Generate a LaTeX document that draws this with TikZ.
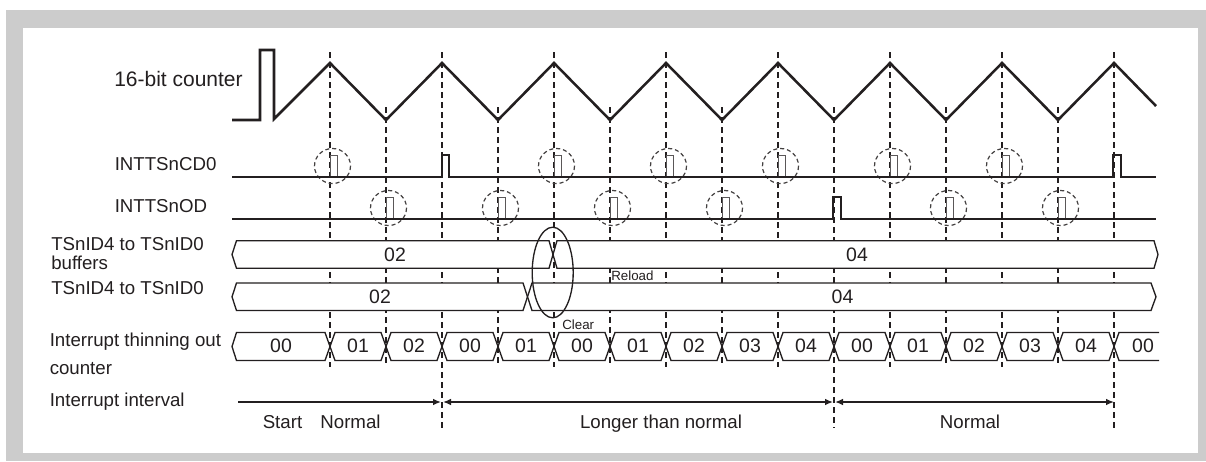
\documentclass[tikz,border=0pt]{standalone}
\usepackage{fontspec}
\setmainfont{Liberation Sans}
\usetikzlibrary{arrows.meta}
\definecolor{framegray}{RGB}{204,204,204}
\definecolor{ink}{RGB}{35,31,32}
\begin{document}
\begin{tikzpicture}[x=0.75pt,y=-0.75pt,
  wave/.style={line width=1.9pt, draw=ink, line join=miter},
  sig/.style={line width=2.1pt, draw=ink},
  bus/.style={line width=1pt, draw=ink, fill=white},
  guide/.style={line width=1pt, draw=ink, dash pattern=on 4.5pt off 3pt},
  hint/.style={line width=0.9pt, draw=ink!85, dash pattern=on 3pt off 2.2pt},
  glyph/.style={line width=0.7pt, draw=ink!75},
  lbl/.style={inner sep=0pt, anchor=base west, font=\fontsize{14}{16}\selectfont, text=ink},
  title/.style={inner sep=0pt, anchor=base west, font=\fontsize{15.75}{18}\selectfont, text=ink},
  val/.style={inner sep=0pt, font=\fontsize{14.6}{16}\selectfont, text=ink},
  note/.style={inner sep=0pt, anchor=base west, font=\fontsize{10}{12}\selectfont, text=ink},
  span/.style={inner sep=0pt, anchor=base, font=\fontsize{14}{16}\selectfont, text=ink},
  dimline/.style={line width=1.1pt, draw=ink}
]
% frame
\fill[framegray] (6,10) rectangle (1206,461);
\fill[white] (23,28) rectangle (1198,453);
\useasboundingbox (0,0) rectangle (1206,461);

% guide lines
\foreach \x/\t/\b in {330/52/367, 386/107/367, 442/52/428, 498/107/367, 554/52/367,
  610/107/367, 666/52/367, 722/107/367, 778/52/367, 834/107/428, 890/52/367,
  946/107/367, 1002/52/367, 1058/107/367, 1114/52/428}
  \draw[guide] (\x,\t) -- (\x,\b);

% labels
\node[title] (lcnt) at (114,86.5) {16-bit counter};
\node[lbl] (lcd) at (114.5,170.5) {INTTSnCD0};
\node[lbl] (lod) at (114.5,212.5) {INTTSnOD};
\node[lbl] (lbuf) at (51,250.5) {TSnID4 to TSnID0};
\node[lbl] (lbuf2) at (51,269.5) {buffers};
\node[lbl] (lreg) at (51,294) {TSnID4 to TSnID0};
\node[lbl] (lthin) at (49.5,346.5) {Interrupt thinning out};
\node[lbl] (lthin2) at (49.5,374.3) {counter};
\node[lbl] (lint) at (49.5,406.7) {Interrupt interval};

% 16-bit counter
\draw[wave] (232,120) -- (260,120) -- (260,50) -- (274,50) -- (274,119)
  -- (330,63) -- (386,120) -- (442,63) -- (498,120) -- (554,63) -- (610,120)
  -- (666,63) -- (722,120) -- (778,63) -- (834,120) -- (890,63) -- (946,120)
  -- (1002,63) -- (1058,120) -- (1114,63) -- (1156,106);

% hint circles
\foreach \x in {330,554,666,778,890,1002}{
  \draw[hint] (\x+2.5,166) ellipse (18 and 17.5);
  \draw[glyph] (\x,176) -- (\x,155) -- (\x+7,155) -- (\x+7,176);
}
\foreach \x in {386,498,610,722,946,1058}{
  \draw[hint] (\x+2.5,208) ellipse (18 and 17.5);
  \draw[glyph] (\x,218) -- (\x,197) -- (\x+7,197) -- (\x+7,218);
}

% interrupt signals
\draw[sig] (232,177) -- (442,177) -- (442,155) -- (449,155) -- (449,177)
  -- (1113,177) -- (1113,155) -- (1121,155) -- (1121,177) -- (1156,177);
\draw[sig] (232,219) -- (833,219) -- (833,197) -- (841,197) -- (841,219) -- (1156,219);

% buffer bus
\draw[bus] (232,254.5) -- (236.5,240.7) -- (549,240.7) -- (553,254.5) -- (549,268.3) -- (236.5,268.3) -- cycle;
\draw[bus] (553,254.5) -- (557,240.7) -- (1154,240.7) -- (1158,254.5) -- (1154,268.3) -- (557,268.3) -- cycle;
\node[val] (b1) at (395,254.5) {02};
\node[val] (b2) at (857,254.5) {04};

% register bus
\draw[bus] (232,296.8) -- (236.5,283) -- (523,283) -- (527.5,296.8) -- (523,310.5) -- (236.5,310.5) -- cycle;
\draw[bus] (527.5,296.8) -- (532,283) -- (1151,283) -- (1156,296.8) -- (1151,310.5) -- (532,310.5) -- cycle;
\node[val] (r1) at (380,297) {02};
\node[val] (r2) at (842.5,297) {04};

% thinning out counter
\draw[bus] (232,346.5) -- (236.5,332.5) -- (325,332.5) -- (330,346.5) -- (325,360.5) -- (236.5,360.5) -- cycle;
\node[val] (t0) at (281,346) {00};
\foreach \a/\b/\v [count=\i] in {330/386/01, 386/442/02, 442/498/00, 498/554/01,
  554/610/00, 610/666/01, 666/722/02, 722/778/03, 778/834/04, 834/890/00,
  890/946/01, 946/1002/02, 1002/1058/03, 1058/1114/04}{
  \draw[bus] (\a,346.5) -- (\a+5,332.5) -- (\b-5,332.5) -- (\b,346.5) -- (\b-5,360.5) -- (\a+5,360.5) -- cycle;
  \node[val] (t\i) at ({(\a+\b)/2},346) {\v};
}
\fill[white] (1119,332.5) rectangle (1159,360.5);
\draw[line width=1pt, draw=ink] (1159,332.5) -- (1119,332.5) -- (1114,346.5) -- (1119,360.5) -- (1159,360.5);
\node[val] (t15) at (1143,346) {00};

% reload / clear
\draw[line width=1pt, draw=ink] (552.7,272.5) ellipse (20.5 and 45.3);
\node[note] (reload) at (611,280) {Reload};
\node[note] (clear) at (562,329.3) {Clear};

% interrupt interval
\coordinate (i0) at (238,402);
\coordinate (i1) at (441,402);
\coordinate (i1b) at (443,402);
\coordinate (i2) at (833,402);
\coordinate (i2b) at (835,402);
\coordinate (i3) at (1114,402);
\draw[dimline, -{Latex[length=6pt,width=5pt]}] (i0) -- (i1);
\draw[dimline, {Latex[length=6pt,width=5pt]}-{Latex[length=6pt,width=5pt]}] (i1b) -- (i2);
\draw[dimline, {Latex[length=6pt,width=5pt]}-{Latex[length=6pt,width=5pt]}] (i2b) -- (i3);
\node[span] (sstart) at (282.5,428.5) {Start};
\node[span] (snorm1) at (350.5,428.5) {Normal};
\node[span] (slong) at (661,428.5) {Longer than normal};
\node[span] (snorm2) at (970,428.5) {Normal};
\end{tikzpicture}
\end{document}
